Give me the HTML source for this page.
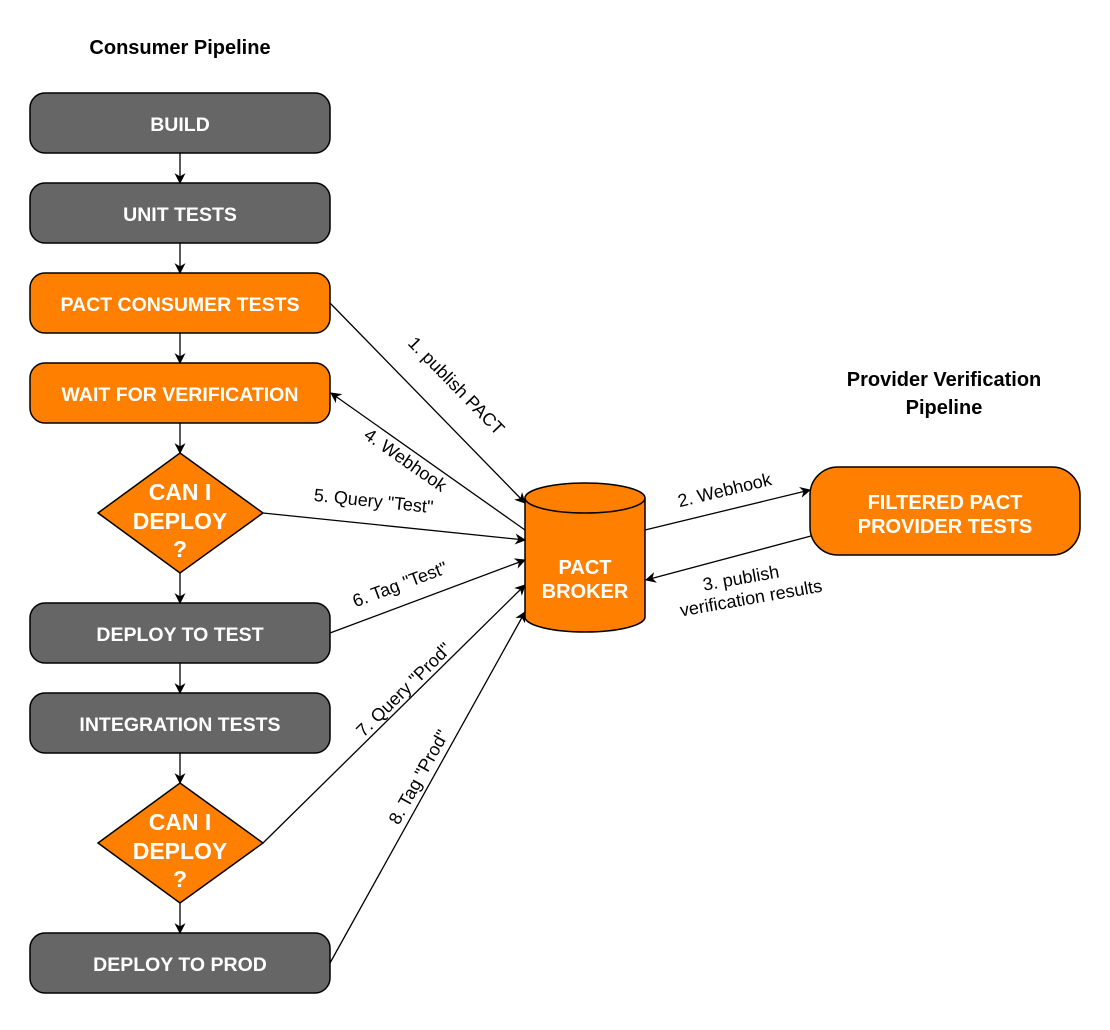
<!DOCTYPE html>
<html><head><meta charset="utf-8"><style>html,body{margin:0;padding:0;background:#fff}</style></head>
<body>
<svg width="1110" height="1025" viewBox="0 0 1110 1025" xmlns="http://www.w3.org/2000/svg" font-family="Liberation Sans, sans-serif">
<defs>
<marker id="a" viewBox="0 0 10 10" refX="9" refY="5" markerWidth="11" markerHeight="11" markerUnits="userSpaceOnUse" orient="auto"><path d="M0,0 L10,5 L0,10 L3,5 z" fill="#000"/></marker>
</defs>
<text x="180" y="54" text-anchor="middle" font-size="20" font-weight="bold">Consumer Pipeline</text>
<text x="944" y="386" text-anchor="middle" font-size="20" font-weight="bold">Provider Verification</text>
<text x="944" y="414" text-anchor="middle" font-size="20" font-weight="bold">Pipeline</text>
<g stroke="#000" stroke-width="1.5">
<rect x="30" y="93" width="300" height="60" rx="15" fill="#666"/>
<rect x="30" y="183" width="300" height="60" rx="15" fill="#666"/>
<rect x="30" y="273" width="300" height="60" rx="15" fill="#ff8000"/>
<rect x="30" y="363" width="300" height="60" rx="15" fill="#ff8000"/>
<path d="M180,453 L263,513 L180,573 L98,513 Z" fill="#ff8000"/>
<rect x="30" y="603" width="300" height="60" rx="15" fill="#666"/>
<rect x="30" y="693" width="300" height="60" rx="15" fill="#666"/>
<path d="M180,783 L263,843 L180,903 L98,843 Z" fill="#ff8000"/>
<rect x="30" y="933" width="300" height="60" rx="15" fill="#666"/>
<rect x="810" y="467" width="270" height="88" rx="28" fill="#ff8000"/>
<path d="M525,498 L525,617 A60,15 0 0 0 645,617 L645,498 A60,15 0 0 0 525,498 Z" fill="#ff8000"/>
<path d="M525,498 A60,15 0 0 0 645,498" fill="none"/>
</g>
<g fill="#fff" font-weight="bold" font-size="19.5" text-anchor="middle">
<text x="180" y="131">BUILD</text>
<text x="180" y="221">UNIT TESTS</text>
<text x="180" y="311">PACT CONSUMER TESTS</text>
<text x="180" y="401">WAIT FOR VERIFICATION</text>
<text x="180" y="641">DEPLOY TO TEST</text>
<text x="180" y="731">INTEGRATION TESTS</text>
<text x="180" y="971">DEPLOY TO PROD</text>
<g font-size="23"><text x="180" y="500">CAN I</text><text x="180" y="529">DEPLOY</text><text x="180" y="557">?</text>
<text x="180" y="830">CAN I</text><text x="180" y="859">DEPLOY</text><text x="180" y="887">?</text></g>
<text x="585" y="574" font-size="20">PACT</text><text x="585" y="598" font-size="20">BROKER</text>
<text x="945" y="509" font-size="20">FILTERED PACT</text><text x="945" y="533" font-size="20">PROVIDER TESTS</text>
</g>
<g stroke="#000" stroke-width="1.3" fill="none" marker-end="url(#a)">
<line x1="180" y1="153" x2="180" y2="183"/>
<line x1="180" y1="243" x2="180" y2="273"/>
<line x1="180" y1="333" x2="180" y2="363"/>
<line x1="180" y1="423" x2="180" y2="453"/>
<line x1="180" y1="573" x2="180" y2="603"/>
<line x1="180" y1="663" x2="180" y2="693"/>
<line x1="180" y1="753" x2="180" y2="783"/>
<line x1="180" y1="903" x2="180" y2="933"/>
<line x1="330" y1="303" x2="525" y2="503"/>
<line x1="525" y1="530" x2="331" y2="393"/>
<line x1="263" y1="513" x2="525" y2="540"/>
<line x1="330" y1="633" x2="525" y2="560"/>
<line x1="263" y1="843" x2="525" y2="585"/>
<line x1="330" y1="963" x2="525" y2="612"/>
<line x1="645" y1="530" x2="810" y2="490"/>
<line x1="811" y1="536" x2="646" y2="580"/>
</g>
<g font-size="18" text-anchor="middle">
<text transform="translate(452,390) rotate(45.7)">1. publish PACT</text>
<text transform="translate(402,465) rotate(35)">4. Webhook</text>
<text transform="translate(373,507) rotate(5.9)">5. Query "Test"</text>
<text transform="translate(402,590) rotate(-20.5)">6. Tag "Test"</text>
<text transform="translate(408,694) rotate(-44.6)">7. Query "Prod"</text>
<text transform="translate(424,780) rotate(-61)">8. Tag "Prod"</text>
<text transform="translate(726,496) rotate(-13.6)">2. Webhook</text>
<text transform="translate(742,584) rotate(-10)">3. publish</text>
<text transform="translate(752,604) rotate(-10)">verification results</text>
</g>
</svg>
</body></html>
